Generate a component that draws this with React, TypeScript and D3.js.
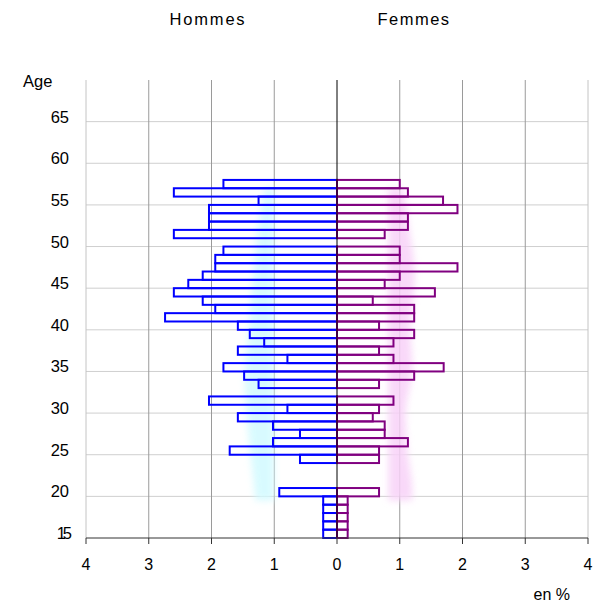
import React from "react";
import * as d3 from "d3";

const ages = d3.range(15, 58);
const maleValues = [
  0.22, 0.22, 0.22, 0.22, 0.22, 0.92, 0, 0, 0, 0.59,
  1.71, 1.02, 0.59, 1.02, 1.58, 0.79, 2.04, 0, 1.25, 1.48,
  1.81, 0.79, 1.58, 1.16, 1.39, 1.58, 2.74, 1.94, 2.14, 2.6,
  2.37, 2.14, 1.94, 1.94, 1.81, 0, 2.6, 2.04, 2.04, 2.04,
  1.25, 2.6, 1.81,
];
const femaleValues = [
  0.17, 0.17, 0.17, 0.17, 0.17, 0.67, 0, 0, 0, 0.67,
  0.67, 1.13, 0.76, 0.76, 0.57, 0.67, 0.9, 0, 0.67, 1.23,
  1.7, 0.9, 0.67, 0.9, 1.23, 0.67, 1.23, 1.23, 0.57, 1.56,
  0.76, 1.0, 1.92, 1.0, 1.0, 0, 0.76, 1.13, 1.13, 1.92,
  1.69, 1.13, 1.0,
];

// soft reference profile drawn behind the bars
const shadeAges = [19.5, 22, 25, 28, 31, 34, 37, 40, 43, 46, 49, 52, 55, 57];
const shadeMaleOuter = [1.3, 1.33, 1.38, 1.42, 1.45, 1.48, 1.45, 1.4, 1.38, 1.35, 1.3, 1.28, 1.2, 1.15];
const shadeMaleInner = [1.0, 1.0, 1.0, 1.0, 1.0, 1.0, 1.0, 1.0, 1.0, 1.0, 1.0, 1.0, 1.0, 1.0];
const shadeFemaleOuter = [1.2, 1.2, 1.12, 1.1, 1.08, 1.2, 1.2, 1.15, 1.2, 1.25, 1.22, 1.15, 1.1, 1.05];
const shadeFemaleInner = [0.82, 0.82, 0.82, 0.82, 0.82, 0.82, 0.82, 0.82, 0.82, 0.82, 0.82, 0.82, 0.82, 0.82];

const xTicks = [-4, -3, -2, -1, 0, 1, 2, 3, 4];
const yTicks = [15, 20, 25, 30, 35, 40, 45, 50, 55, 60, 65];

export default function App() {
  const W = 603;
  const H = 604;
  const x = d3.scaleLinear().domain([-4, 4]).range([86, 588]);
  const y = d3.scaleLinear().domain([15, 70]).range([538, 80]);
  const font = "Arial, 'Liberation Sans', sans-serif";

  const maleShade = d3
    .area<number>()
    .y((_, i) => y(shadeAges[i]))
    .x0((_, i) => x(-shadeMaleInner[i]))
    .x1((_, i) => x(-shadeMaleOuter[i]))
    .curve(d3.curveBasis);
  const femaleShade = d3
    .area<number>()
    .y((_, i) => y(shadeAges[i]))
    .x0((_, i) => x(shadeFemaleInner[i]))
    .x1((_, i) => x(shadeFemaleOuter[i]))
    .curve(d3.curveBasis);

  return (
    <svg
      width={W}
      height={H}
      style={{ position: "absolute", left: 0, top: 0, background: "#fff" }}
    >
      <defs>
        <filter id="soft" x="-50%" y="-10%" width="200%" height="120%">
          <feGaussianBlur stdDeviation="3.5" />
        </filter>
      </defs>
      {/* horizontal grid */}
      {yTicks
        .filter((t) => t > 15)
        .map((t) => (
          <line key={"h" + t} x1={x(-4)} x2={x(4)} y1={y(t)} y2={y(t)} stroke="#cfcfcf" strokeWidth={1} />
        ))}
      {/* vertical grid */}
      {xTicks
        .filter((t) => t !== 0)
        .map((t) => (
          <line
            key={"v" + t}
            x1={x(t)}
            x2={x(t)}
            y1={y(70)}
            y2={y(15)}
            stroke={Math.abs(t) === 4 ? "#c4c4c4" : "#9a9a9a"}
            strokeWidth={1}
          />
        ))}
      {/* shaded reference */}
      <path d={maleShade(shadeAges) || ""} fill="#d2faff" opacity={0.85} filter="url(#soft)" />
      <path d={femaleShade(shadeAges) || ""} fill="#f8d2f8" opacity={0.85} filter="url(#soft)" />
      {/* bars */}
      {ages.map((a, i) =>
        maleValues[i] > 0 ? (
          <rect
            key={"m" + a}
            x={x(-maleValues[i])}
            y={y(a + 1)}
            width={x(0) - x(-maleValues[i])}
            height={y(a) - y(a + 1)}
            fill="none"
            stroke="#0000ff"
            strokeWidth={2}
          />
        ) : null
      )}
      {ages.map((a, i) =>
        femaleValues[i] > 0 ? (
          <rect
            key={"f" + a}
            x={x(0)}
            y={y(a + 1)}
            width={x(femaleValues[i]) - x(0)}
            height={y(a) - y(a + 1)}
            fill="none"
            stroke="#800080"
            strokeWidth={2}
          />
        ) : null
      )}
      {/* zero line */}
      <line x1={x(0)} x2={x(0)} y1={y(70)} y2={y(15)} stroke="#000" strokeWidth={1} />
      {/* x axis */}
      <line x1={x(-4)} x2={x(4)} y1={y(15)} y2={y(15)} stroke="#333" strokeWidth={1} />
      {xTicks.map((t) => (
        <g key={"xt" + t}>
          <line x1={x(t)} x2={x(t)} y1={y(15)} y2={y(15) + 6} stroke="#333" strokeWidth={1} />
          <text x={x(t)} y={570} textAnchor="middle" fontFamily={font} fontSize={16} fill="#000">
            {Math.abs(t)}
          </text>
        </g>
      ))}
      {/* y labels */}
      {yTicks.map((t) => (
        <text
          key={"yt" + t}
          x={69}
          y={y(t) + 1}
          textAnchor="end"
          fontFamily={font}
          fontSize={16.5}
          letterSpacing={t === 15 ? -3 : 0}
          fill="#000"
        >
          {t}
        </text>
      ))}
      <text x={23} y={87} fontFamily={font} fontSize={16.5} fill="#000">
        Age
      </text>
      <text x={208} y={25} textAnchor="middle" fontFamily={font} fontSize={16.5} letterSpacing={1.8} fill="#000">
        Hommes
      </text>
      <text x={414} y={25} textAnchor="middle" fontFamily={font} fontSize={16.5} letterSpacing={1.5} fill="#000">
        Femmes
      </text>
      <text x={570} y={600} textAnchor="end" fontFamily={font} fontSize={16} fill="#000">
        en %
      </text>
    </svg>
  );
}
